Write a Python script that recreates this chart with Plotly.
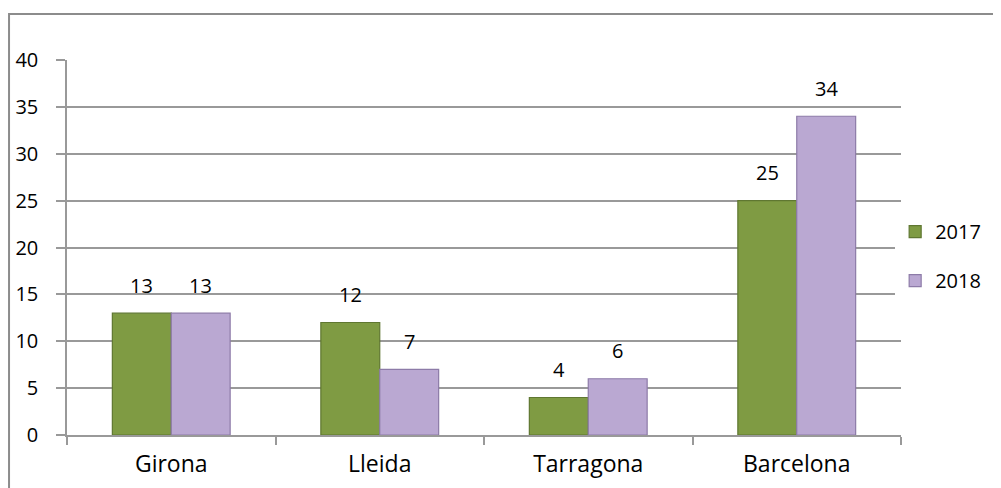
import plotly.graph_objects as go

categories = ["Girona", "Lleida", "Tarragona", "Barcelona"]
values_2017 = [13, 12, 4, 25]
values_2018 = [13, 7, 6, 34]
y_ticks = [0, 5, 10, 15, 20, 25, 30, 35, 40]

font_family = "Open Sans, sans-serif"
grid_color = "#999999"

fig = go.Figure()
fig.add_bar(x=categories, y=values_2017, name="2017", legendgroup="a",
            marker=dict(color="#7F9B43", line=dict(color="#5F7731", width=1.2)))
fig.add_bar(x=categories, y=values_2018, name="2018", legendgroup="b",
            marker=dict(color="#BAA8D2", line=dict(color="#8D7BA8", width=1.2)))

# data labels sit a little above each bar (half a bar width left/right of the category)
half_bar = 834 / 4 * (1 - 0.435) / 4
for cat, v17, v18 in zip(categories, values_2017, values_2018):
    fig.add_annotation(x=cat, y=v17, text=str(v17), showarrow=False,
                       xshift=-half_bar, yshift=28, font=dict(size=20))
    fig.add_annotation(x=cat, y=v18, text=str(v18), showarrow=False,
                       xshift=half_bar, yshift=28, font=dict(size=20))

# page body adds an 8px offset, so the figure is a bit smaller than the window
fig.update_layout(
    width=993, height=480,
    margin=dict(l=59, r=100, t=52, b=53, autoexpand=False),
    paper_bgcolor="white", plot_bgcolor="white",
    font=dict(family=font_family, size=20, color="black"),
    barmode="group", bargap=0.435, bargroupgap=0,
    showlegend=True,
    legend=dict(x=0.993, y=0.477, xanchor="left", yanchor="middle",
                font=dict(size=20), tracegroupgap=20, itemwidth=30),
    xaxis=dict(range=[-0.5, 3.5], showline=True, linecolor=grid_color, linewidth=1.5,
               ticks="outside", tickson="boundaries", ticklen=8,
               tickcolor=grid_color, tickwidth=1.5, showgrid=False,
               tickfont=dict(size=23), ticklabelstandoff=8, automargin=False),
    yaxis=dict(range=[0, 40], tickvals=y_ticks, showgrid=True, gridcolor=grid_color,
               gridwidth=1.5, showline=True, linecolor=grid_color, linewidth=1.5,
               ticks="outside", ticklen=9, tickcolor=grid_color, tickwidth=1.5,
               ticklabelstandoff=14, zeroline=False, automargin=False),
    shapes=[dict(type="rect", xref="paper", yref="paper",
                 x0=-0.0695, x1=1.13, y0=-0.16, y1=1.1227,
                 line=dict(color="#8C8C8C", width=2), layer="below")],
)

fig.write_html("out.html")
